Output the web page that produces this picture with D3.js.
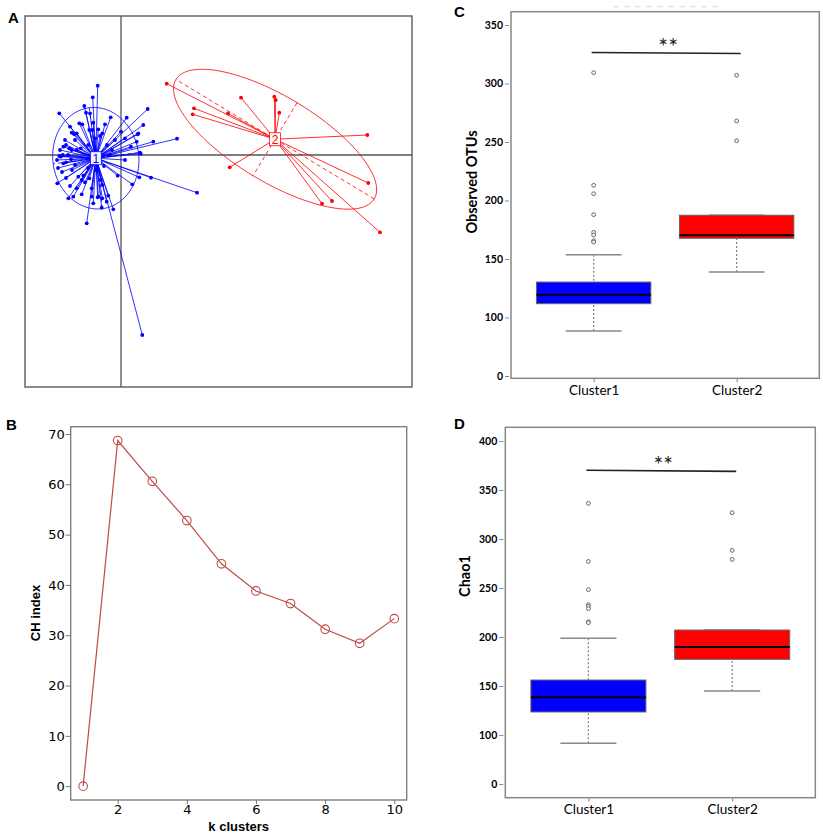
<!DOCTYPE html>
<html>
<head>
<meta charset="UTF-8">
<style>
  body { margin: 0; background: #fff; }
  svg { display: block; }
  .plab { font-family: "Liberation Sans", Arial, sans-serif; font-weight: bold; font-size: 15px; }
  .bx text { font-family: "DejaVu Sans", sans-serif; font-size: 13px; fill: #000; }
  .bxt { font-family: "Liberation Sans", Arial, sans-serif; font-weight: bold; font-size: 13px; }
  .cy text { font-family: Lato, sans-serif; font-weight: bold; font-size: 10.5px; fill: #000; }
  .cx text { font-family: Lato, sans-serif; font-size: 13.5px; fill: #000; }
  .ctitle { font-family: Lato, sans-serif; font-weight: bold; font-size: 14.5px; }
</style>
</head>
<body>
<svg width="823" height="835"></svg>
<script src="https://d3js.org/d3.v7.min.js"></script>
<script>

// ---- panel A: sample scores per cluster (ordination units) ----
const cluster1 = [
  [-2.33, 6.93], [-2.83, 5.77], [-6.17, 4.17], [-3.67, 4.9], [-3.5, 4.23], [-3.1, 4.17],
  [-4.17, 3.17], [-3.87, 3.07], [-5.1, 2.83], [-2.77, 3.23], [-4.93, 2.23], [-4.7, 2.1],
  [-4.43, 2.17], [-3.17, 2.5], [-2.87, 2.5], [-4.6, 1.5], [-2.6, 1.67], [-5.5, 1.0],
  [-5.77, 0.83], [-5.17, 0.67], [-4.93, 0.5], [-4.43, 0.5], [-4.03, 0.67], [-3.27, 1.0],
  [-6.03, -0.17], [-5.83, 0.0], [2.67, 4.6], [-1.03, 3.77], [0.57, 3.73], [-1.6, 3.07],
  [-2.27, 2.57], [2.23, 3.0], [-1.87, 2.17], [0.0, 2.33], [0.4, 1.67], [1.73, 2.17],
  [1.57, 1.33], [1.0, 0.83], [3.23, 1.33], [-0.6, 1.5], [1.9, 0.23], [-1.1, 0.0],
  [5.6, 1.63], [-2.1, 1.9], [-1.4, 1.0], [-6.17, -0.1], [-5.77, -0.83], [-5.5, -0.73],
  [-5.0, -0.43], [-4.6, -1.0], [-6.37, -2.83], [-5.1, -3.1], [-4.27, -2.17], [-3.93, -2.5],
  [-3.77, -2.07], [-3.6, -2.73], [-3.17, -2.33], [-4.43, -3.33], [-3.93, -3.93], [-5.27, -4.33],
  [-4.77, -4.17], [-2.93, -3.33], [-2.93, -4.17], [-2.27, -4.17], [-3.43, -6.83], [-2.77, -4.83],
  [-0.33, -2.07], [1.83, -2.23], [3.0, -2.27], [1.13, -2.93], [-2.33, -4.23], [-1.87, -3.0],
  [-1.87, -4.33], [-1.27, -4.07], [-1.93, -5.27], [-0.77, -5.43], [-1.43, -4.67], [-2.0, -2.5],
  [7.6, -3.77], [2.13, -18.0], [-2.5, -1.5], [-1.7, -1.1], [-3.3, -1.3], [0.4, -0.5],
  [-0.9, 0.5], [1.97, 0.13], [1.67, 2.07], [-6.4, -0.5], [-6.3, -1.3], [-5.9, -1.7],
  [-5.5, -2.3], [-6.1, 0.5], [-5.6, 1.5], [-4.9, -1.5], [-5.3, 0.0]
];
const cluster2 = [
  [4.57, 7.13], [12.0, 5.73], [15.33, 5.83], [15.47, 5.5], [15.83, 4.23], [7.3, 4.67],
  [7.17, 4.07], [10.7, 4.17], [24.63, 2.0], [10.87, -1.23], [24.73, -2.8], [20.1, -4.87],
  [21.1, -4.6], [25.9, -7.73]
];
const clusterColors = ["#0000ff", "#ff0000"];

// ---- panel B: CH index by k ----
const kValues = [1, 2, 3, 4, 5, 6, 7, 8, 9, 10];
const chIndex = [0, 68.7, 60.6, 52.8, 44.2, 38.8, 36.3, 31.2, 28.4, 33.3];
const kTicks = [2, 4, 6, 8, 10];
const chTicks = [0, 10, 20, 30, 40, 50, 60, 70];

// ---- panel C: observed OTUs ----
const clusterNames = ["Cluster1", "Cluster2"];
const otuTicks = [0, 100, 150, 200, 250, 300, 350];
const otuLower = [77, 138.9];
const otuQ1 = [111.8, 167.7];
const otuMedian = [119.5, 170.3];
const otuQ3 = [130.3, 187.4];
const otuUpper = [153.7, 187.4];
const otuOutliers = [[309.2, 213, 205.8, 187.9, 172.8, 170.5, 165.6, 164.5], [307, 268, 251.1]];
const otuSignif = [326.5, 325.6];

// ---- panel D: Chao1 ----
const chaoTicks = [0, 100, 150, 200, 250, 300, 350, 400];
const chaoLower = [83, 144.9];
const chaoQ1 = [123.5, 177.2];
const chaoMedian = [138.5, 189.9];
const chaoQ3 = [156.1, 207.1];
const chaoUpper = [198.7, 207.1];
const chaoOutliers = [[336.4, 277.1, 248.3, 233, 231.3, 229, 215.6, 214.6], [326.8, 288.4, 279.2]];
const chaoSignif = [370.1, 369];

const svg = d3.select("svg");

// panel letters
[["A", 8, 23], ["C", 454, 17], ["B", 6, 430], ["D", 454, 429]].forEach(d => {
    svg.append("text").attr("class", "plab").attr("x", d[1]).attr("y", d[2]).text(d[0]);
});

// ================= A =================
let aX = d3.scaleLinear().domain([-9.6, 29.1]).range([25, 412]);
let aY = d3.scaleLinear().domain([-23.2, 13.9]).range([387, 16]);
let gA = svg.append("g");

gA.append("rect").attr("x", aX.range()[0]).attr("y", aY.range()[1])
    .attr("width", aX.range()[1] - aX.range()[0]).attr("height", aY.range()[0] - aY.range()[1])
    .attr("fill", "none").attr("stroke", "#666").attr("stroke-width", 1.5);
gA.append("line").attr("x1", aX(0)).attr("x2", aX(0)).attr("y1", aY.range()[0]).attr("y2", aY.range()[1])
    .attr("stroke", "#555").attr("stroke-width", 1.3);
gA.append("line").attr("y1", aY(0)).attr("y2", aY(0)).attr("x1", aX.range()[0]).attr("x2", aX.range()[1])
    .attr("stroke", "#555").attr("stroke-width", 1.3);

// covariance ellipse like ade4 s.class (cellipse = 1.5)
function ellipseOf(pts) {
    let n = pts.length;
    let mx = d3.mean(pts, p => p[0]), my = d3.mean(pts, p => p[1]);
    let vx = d3.sum(pts, p => (p[0] - mx) ** 2) / n;
    let vy = d3.sum(pts, p => (p[1] - my) ** 2) / n;
    let cxy = d3.sum(pts, p => (p[0] - mx) * (p[1] - my)) / n;
    let tr = vx + vy, det = vx * vy - cxy * cxy;
    let disc = Math.sqrt(Math.max(tr * tr / 4 - det, 0));
    let l1 = tr / 2 + disc, l2 = tr / 2 - disc;
    let phi = Math.abs(cxy) < 1e-9 ? (vx >= vy ? 0 : Math.PI / 2) : Math.atan2(l1 - vx, cxy);
    return { mx, my, a: 1.5 * Math.sqrt(l1), b: 1.5 * Math.sqrt(l2), phi };
}

[cluster1, cluster2].forEach((pts, i) => {
    let col = clusterColors[i];
    let e = ellipseOf(pts);
    let ux = Math.cos(e.phi), uy = Math.sin(e.phi);
    let ring = d3.range(0, 101).map(k => {
        let t = k / 100 * 2 * Math.PI;
        return [e.mx + e.a * Math.cos(t) * ux - e.b * Math.sin(t) * uy,
                e.my + e.a * Math.cos(t) * uy + e.b * Math.sin(t) * ux];
    });
    let g = gA.append("g");
    g.append("path").attr("d", d3.line().x(p => aX(p[0])).y(p => aY(p[1]))(ring))
        .attr("fill", "none").attr("stroke", col).attr("stroke-width", 1).attr("opacity", 0.8);
    // ellipse axes
    [[e.a * ux, e.a * uy], [-e.b * uy, e.b * ux]].forEach(v => {
        g.append("line")
            .attr("x1", aX(e.mx - v[0])).attr("y1", aY(e.my - v[1]))
            .attr("x2", aX(e.mx + v[0])).attr("y2", aY(e.my + v[1]))
            .attr("stroke", col).attr("stroke-width", 1).attr("stroke-dasharray", "4,3").attr("opacity", 0.8);
    });
    g.selectAll("line.star").data(pts).enter().append("line").attr("class", "star")
        .attr("x1", aX(e.mx)).attr("y1", aY(e.my))
        .attr("x2", p => aX(p[0])).attr("y2", p => aY(p[1]))
        .attr("stroke", col).attr("stroke-width", 1).attr("opacity", 0.8);
    g.selectAll("circle").data(pts).enter().append("circle")
        .attr("cx", p => aX(p[0])).attr("cy", p => aY(p[1])).attr("r", 1.9)
        .attr("fill", col);
    g.append("rect").attr("x", aX(e.mx) - 5.5).attr("y", aY(e.my) - 6.5)
        .attr("width", 11).attr("height", 13).attr("fill", "#fff")
        .attr("stroke", col).attr("stroke-width", 0.8).attr("opacity", 0.95);
    g.append("text").attr("x", aX(e.mx)).attr("y", aY(e.my) + 4.5)
        .attr("text-anchor", "middle").attr("fill", col)
        .style("font-family", "Liberation Sans, Arial, sans-serif").style("font-size", "12px")
        .text(i + 1);
});

// ================= B =================
let bX = d3.scaleLinear().domain([0.64, 10.36]).range([70.7, 406.7]);
let bY = d3.scaleLinear().domain([-2.75, 71.45]).range([800, 426.7]);
let gB = svg.append("g");
gB.append("rect").attr("x", 70.7).attr("y", 426.7).attr("width", 336).attr("height", 373.3)
    .attr("fill", "none").attr("stroke", "#777").attr("stroke-width", 1.3);
gB.append("g").attr("class", "bx").attr("transform", "translate(70.7,0)")
    .call(d3.axisLeft(bY).tickValues(chTicks).tickSize(5).tickPadding(1))
    .call(a => a.select(".domain").remove())
    .call(a => a.selectAll("line").attr("stroke", "#777"));
gB.append("g").attr("class", "bx").attr("transform", "translate(0,800)")
    .call(d3.axisBottom(bX).tickValues(kTicks).tickSize(4).tickPadding(1))
    .call(a => a.select(".domain").remove())
    .call(a => a.selectAll("line").attr("stroke", "#777"));
gB.append("text").attr("class", "bxt").attr("text-anchor", "middle")
    .attr("x", (bX.range()[0] + bX.range()[1]) / 2).attr("y", 831).text("k clusters");
gB.append("text").attr("class", "bxt").attr("text-anchor", "middle")
    .attr("transform", "translate(40," + 613 + ") rotate(-90)").text("CH index");

let chColor = "#bf4b46";
gB.append("path").datum(kValues.map((k, i) => [k, chIndex[i]]))
    .attr("d", d3.line().x(d => bX(d[0])).y(d => bY(d[1])))
    .attr("fill", "none").attr("stroke", chColor).attr("stroke-width", 1.2);
gB.selectAll("circle").data(kValues.map((k, i) => [k, chIndex[i]])).enter().append("circle")
    .attr("cx", d => bX(d[0])).attr("cy", d => bY(d[1])).attr("r", 4.3)
    .attr("fill", "none").attr("stroke", chColor).attr("stroke-width", 1.1);

// ================= C & D box plots =================
function boxPanel(opt) {
    let step = opt.step;
    // broken axis: each tick gets one equal step
    let y = d3.scaleLinear().domain(opt.ticks)
        .range(opt.ticks.map((t, i) => opt.y0 - i * step));
    let x = d3.scalePoint().domain(clusterNames).range([opt.left, opt.right]).padding(0.578);
    let bw = x.step() * 0.8, cw = x.step() * 0.39;
    let g = svg.append("g");

    g.append("rect").attr("x", opt.left).attr("y", opt.top)
        .attr("width", opt.right - opt.left).attr("height", opt.bottom - opt.top)
        .attr("fill", "none").attr("stroke", "#888").attr("stroke-width", 1.5);
    g.append("g").attr("class", "cy").attr("transform", "translate(" + (opt.left - 2) + ",0)")
        .call(d3.axisLeft(y).tickValues(opt.ticks).tickSize(4).tickPadding(2))
        .call(a => a.select(".domain").remove())
        .call(a => a.selectAll("line").attr("stroke", "#888"));
    g.append("g").attr("class", "cx").attr("transform", "translate(0," + opt.bottom + ")")
        .call(d3.axisBottom(x).tickSize(4).tickPadding(3))
        .call(a => a.select(".domain").remove())
        .call(a => a.selectAll("line").attr("stroke", "#888"));
    g.append("text").attr("class", "ctitle").attr("text-anchor", "middle")
        .attr("transform", "translate(" + opt.titleX + "," + opt.titleY + ") rotate(-90)")
        .text(opt.title);

    clusterNames.forEach((c, i) => {
        let cx = x(c);
        // whiskers
        g.append("line").attr("x1", cx).attr("x2", cx).attr("y1", y(opt.lower[i])).attr("y2", y(opt.q1[i]))
            .attr("stroke", "#888").attr("stroke-width", 1.3).attr("stroke-dasharray", "2,2");
        g.append("line").attr("x1", cx).attr("x2", cx).attr("y1", y(opt.upper[i])).attr("y2", y(opt.q3[i]))
            .attr("stroke", "#888").attr("stroke-width", 1.3).attr("stroke-dasharray", "2,2");
        [opt.lower[i], opt.upper[i]].forEach(v => {
            g.append("line").attr("x1", cx - cw / 2).attr("x2", cx + cw / 2).attr("y1", y(v)).attr("y2", y(v))
                .attr("stroke", "#888").attr("stroke-width", 1.5);
        });
        g.append("rect").attr("x", cx - bw / 2).attr("width", bw)
            .attr("y", y(opt.q3[i])).attr("height", y(opt.q1[i]) - y(opt.q3[i]))
            .attr("fill", clusterColors[i]).attr("stroke", "#666").attr("stroke-width", 1);
        g.append("line").attr("x1", cx - bw / 2).attr("x2", cx + bw / 2)
            .attr("y1", y(opt.median[i])).attr("y2", y(opt.median[i]))
            .attr("stroke", "#000").attr("stroke-width", 2);
        g.selectAll(null).data(opt.outliers[i]).enter().append("circle")
            .attr("cx", cx).attr("cy", d => y(d)).attr("r", 1.9)
            .attr("fill", "#fff").attr("stroke", "#666").attr("stroke-width", 1);
    });

    // significance bar
    let x1 = x(clusterNames[0]) - 2, x2 = x(clusterNames[1]) + 4;
    g.append("line").attr("x1", x1).attr("x2", x2)
        .attr("y1", y(opt.signif[0])).attr("y2", y(opt.signif[1]))
        .attr("stroke", "#222").attr("stroke-width", 1.6);
    g.append("text").attr("x", (x1 + x2) / 2 + 2).attr("y", y(opt.signif[0]) + 3)
        .attr("text-anchor", "middle").style("font-family", "Lato, sans-serif").style("font-size", "23px")
        .attr("fill", "#222").text("**");
    return g;
}

let gC = boxPanel({
    ticks: otuTicks, y0: 376, step: 58.5, left: 511, right: 819.3, top: 11.7, bottom: 378.3,
    lower: otuLower, q1: otuQ1, median: otuMedian, q3: otuQ3, upper: otuUpper,
    outliers: otuOutliers, signif: otuSignif, title: "Observed OTUs", titleX: 477, titleY: 182
});
// faint trace above panel C
gC.append("line").attr("x1", 613).attr("x2", 722).attr("y1", 6.5).attr("y2", 6.5)
    .attr("stroke", "#e4e4e4").attr("stroke-width", 1.5).attr("stroke-dasharray", "6,5");

boxPanel({
    ticks: chaoTicks, y0: 784, step: 49, left: 505.3, right: 815.3, top: 427.3, bottom: 797.7,
    lower: chaoLower, q1: chaoQ1, median: chaoMedian, q3: chaoQ3, upper: chaoUpper,
    outliers: chaoOutliers, signif: chaoSignif, title: "Chao1", titleX: 470, titleY: 576
});

</script>
</body>
</html>
